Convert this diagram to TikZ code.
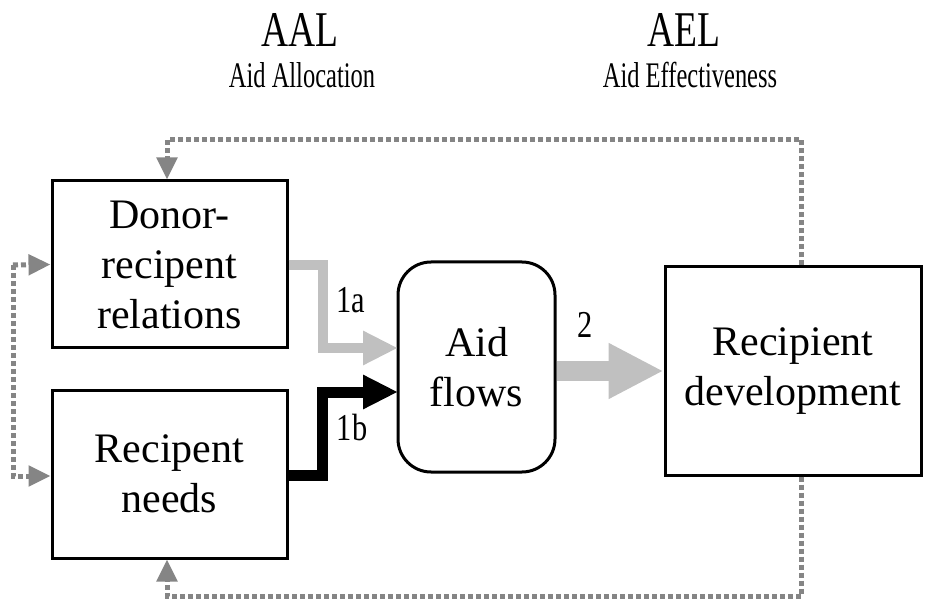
\documentclass[tikz,border=0pt]{standalone}
\usepackage{fontspec}
\setmainfont{Liberation Serif}
\usetikzlibrary{arrows.meta,calc}
\definecolor{lgray}{HTML}{C0C0C0}
\definecolor{dgray}{HTML}{858585}
\begin{document}
\begin{tikzpicture}[x=1pt,y=-1pt,
  box/.style={draw,line width=3pt,inner sep=0pt,align=center,
    font=\fontsize{42}{50}\selectfont},
  dotarrow/.style={draw=dgray,line width=5pt,dash pattern=on 5pt off 3pt,
    -{Triangle[length=22pt,width=20pt,color=dgray,fill=dgray]}},
  greyflow/.style={draw=lgray,line width=10pt,
    -{Triangle[length=35pt,width=32pt,color=lgray,fill=lgray]}},
  blackflow/.style={draw=black,line width=11pt,
    -{Triangle[length=35pt,width=32pt]}},
  bigflow/.style={draw=lgray,line width=20pt,
    -{Triangle[length=55pt,width=52pt,color=lgray,fill=lgray]}},
  hdr/.style={font=\fontsize{50}{56}\selectfont,xscale=0.75,transform shape,inner sep=0pt},
  sub/.style={font=\fontsize{36}{40}\selectfont,xscale=0.68,transform shape,inner sep=0pt},
  lbl/.style={font=\fontsize{38}{42}\selectfont,xscale=0.8,transform shape,inner sep=0pt}
]
\useasboundingbox (0,0) rectangle (926,601);

% headers
\node[hdr] (AAL) at (300,30) {AAL};
\node[sub] (AALs) at (302,75) {Aid Allocation};
\node[hdr] (AEL) at (684,30) {AEL};
\node[sub] (AELs) at (690,75) {Aid Effectiveness};

% boxes
\node[box,minimum width=235pt,minimum height=167pt] (DR) at (169.5,264.5) {Donor-\\recipent\\relations};
\node[box,minimum width=235pt,minimum height=168pt] (RN) at (169.5,474) {Recipent\\needs};
\node[box,rounded corners=33pt,minimum width=157pt,minimum height=210pt] (AF) at (476.5,367) {Aid\\flows};
\node[box,minimum width=256pt,minimum height=208pt] (RD) at (793,371) {Recipient\\development};

% turn points
\coordinate (t1a) at (323,265);
\coordinate (t1b) at (322,475);
\coordinate (e1a) at (398,348);
\coordinate (e1b) at (398,392);
\coordinate (topR) at (801,140);
\coordinate (topL) at (167,140);
\coordinate (botR) at (801,596);
\coordinate (botL) at (167,596);
\coordinate (lefT) at (13,265);
\coordinate (lefB) at (13,476);

% flows
\draw[greyflow] (DR.east |- t1a) -- (t1a) |- (e1a);
\draw[blackflow] (RN.east |- t1b) -- (t1b) |- (e1b);
\draw[bigflow] (AF.east |- 0,371) -- (RD.west);

% labels
\node[lbl] (l1a) at (351,300) {1a};
\node[lbl] (l1b) at (352,428) {1b};
\node[lbl] (l2) at (585,325) {2};

% feedback loops
\draw[dotarrow] (RD.north -| topR) -- (topR) -- (topL) -- (DR.north -| topL);
\draw[dotarrow] (RD.south -| botR) -- (botR) -- (botL) -- (RN.south -| botL);
\draw[dotarrow] (lefT) -- (DR.west);
\draw[dotarrow] (lefT) -- (lefB) -- (RN.west |- lefB);
\end{tikzpicture}
\end{document}
